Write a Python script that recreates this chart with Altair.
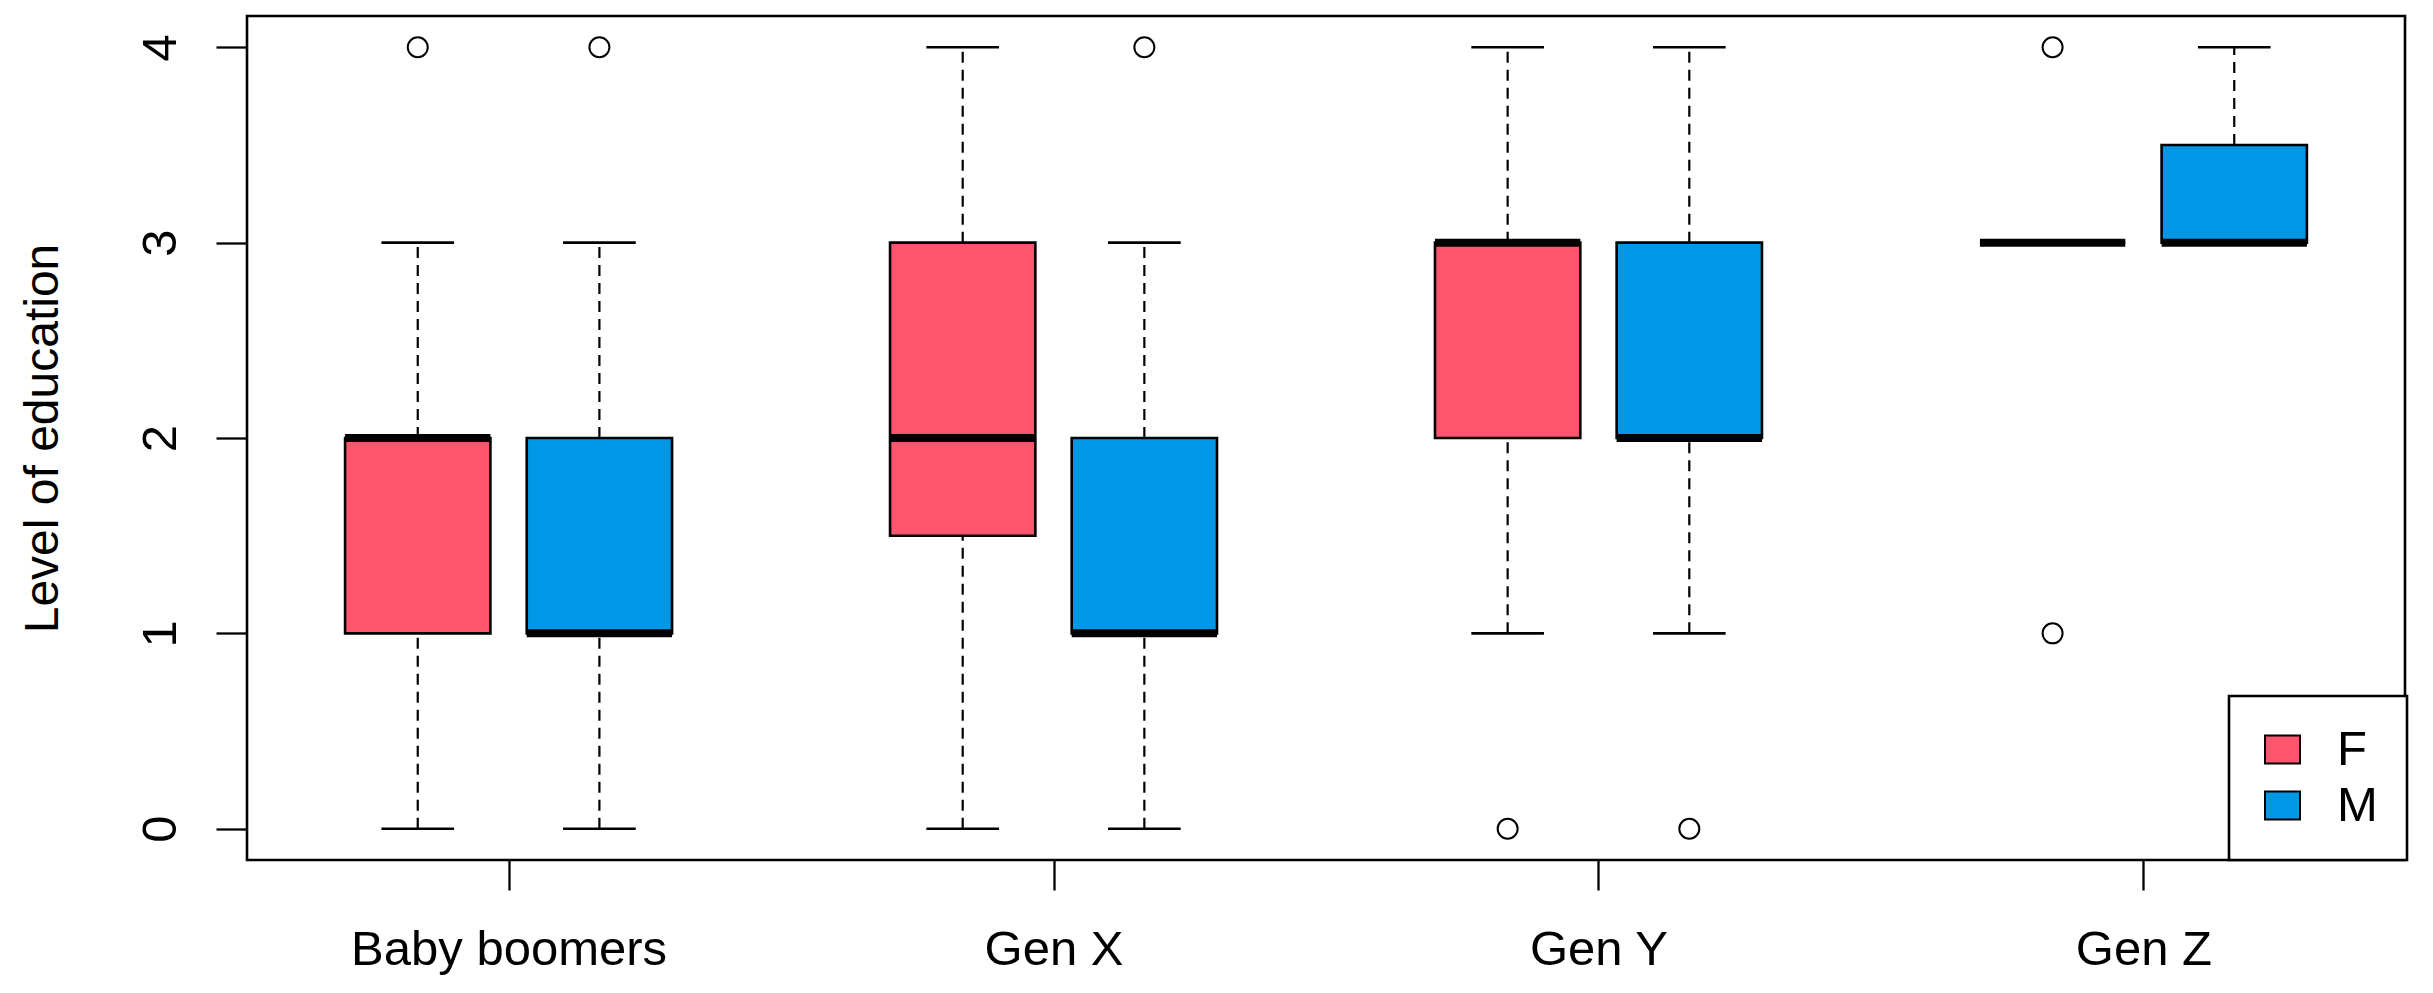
import altair as alt
import pandas as pd

# ---- data ----
groups = ["Baby boomers", "Gen X", "Gen Y", "Gen Z"]
group_ticks = [1.5, 4.5, 7.5, 10.5]
sexes = ["F", "M"]

box_group = ["Baby boomers", "Baby boomers", "Gen X", "Gen X", "Gen Y", "Gen Y", "Gen Z", "Gen Z"]
box_sex = ["F", "M", "F", "M", "F", "M", "F", "M"]
box_pos = [1, 2, 4, 5, 7, 8, 10, 11]
whisk_lo = [0, 0, 0, 0, 1, 1, 3, 3]
q1 = [1, 1, 1.5, 1, 2, 2, 3, 3]
median = [2, 1, 2, 1, 3, 2, 3, 3]
q3 = [2, 2, 3, 2, 3, 3, 3, 3.5]
whisk_hi = [3, 3, 4, 3, 4, 4, 3, 4]

out_pos = [1, 2, 5, 7, 8, 10, 10]
out_val = [4, 4, 4, 0, 0, 4, 1]

colors = ["#FF546E", "#0098E6"]

boxes = pd.DataFrame({
    "group": box_group, "sex": box_sex, "pos": box_pos,
    "lo": whisk_lo, "q1": q1, "med": median, "q3": q3, "hi": whisk_hi,
})
outl = pd.DataFrame({"pos": out_pos, "val": out_val})

FONT = "Liberation Sans"
FS = 49

xscale = alt.Scale(domain=[0.06, 11.94], nice=False, zero=False)
yscale = alt.Scale(domain=[-0.16, 4.16], nice=False, zero=False)

label_expr = ""
for v, g in zip(group_ticks, groups):
    label_expr += f"datum.value == {v} ? '{g}' : "
label_expr += "''"

xaxis = alt.Axis(values=group_ticks, labelExpr=label_expr, title=None, grid=False,
                 domain=False, tickSize=30, tickWidth=2.3, tickColor="black",
                 labelFontSize=FS, labelColor="black", labelFont=FONT,
                 labelBaseline="alphabetic", labelPadding=74, labelFlush=False,
                 labelOverlap=False, labelLimit=0)
yaxis = alt.Axis(values=[0, 1, 2, 3, 4], title="Level of education", grid=False,
                 domain=False, tickSize=31, tickWidth=2.3, tickColor="black",
                 labelFontSize=FS, labelColor="black", labelFont=FONT,
                 labelAngle=270, labelAlign="center", labelBaseline="alphabetic",
                 labelPadding=41, titleFontSize=48, titleFont=FONT,
                 titleFontWeight="normal", titleColor="black", titleAngle=270,
                 titleX=-190, titleBaseline="alphabetic")


def X(field):
    return alt.X(field, type="quantitative", scale=xscale, axis=xaxis)


def Y(field):
    return alt.Y(field, type="quantitative", scale=yscale, axis=yaxis)


base = alt.Chart(boxes).transform_calculate(
    xl="datum.pos - 0.4", xr="datum.pos + 0.4",
    cl="datum.pos - 0.2", cr="datum.pos + 0.2",
)

dash = [11, 7]
wl = base.mark_rule(color="black", strokeWidth=2.2, strokeDash=dash).encode(
    x=X("pos"), y=Y("lo"), y2="q1")
wh = base.mark_rule(color="black", strokeWidth=2.2, strokeDash=dash).encode(
    x=X("pos"), y=Y("q3"), y2="hi")
cap_lo = base.mark_rule(color="black", strokeWidth=2.6).encode(
    x=X("cl"), x2="cr", y=Y("lo"))
cap_hi = base.mark_rule(color="black", strokeWidth=2.6).encode(
    x=X("cl"), x2="cr", y=Y("hi"))
rect = base.mark_rect(stroke="black", strokeWidth=2.6).encode(
    x=X("xl"), x2="xr", y=Y("q1"), y2="q3",
    fill=alt.Fill("sex:N", scale=alt.Scale(domain=sexes, range=colors),
                  legend=alt.Legend(
                      title=None, orient="none", legendX=1982, legendY=680,
                      direction="vertical", symbolType="M-1,-0.8H1V0.8H-1Z",
                      symbolSize=1225,
                      symbolStrokeColor="black", symbolStrokeWidth=2,
                      symbolOffset=0, labelOffset=30, labelFontSize=FS,
                      labelFont=FONT, labelColor="black", rowPadding=6,
                      padding=29, strokeColor="black", fillColor="white",
                      labelLimit=0)))
med = base.mark_rule(color="black", strokeWidth=8).encode(
    x=X("xl"), x2="xr", y=Y("med"))
pts = alt.Chart(outl).mark_point(shape="circle", filled=False, size=400,
                                 color="black", strokeWidth=2, opacity=1).encode(
    x=X("pos"), y=Y("val"))

chart = alt.layer(wl, wh, cap_lo, cap_hi, rect, med, pts).properties(
    width=2158, height=844,
    padding={"left": 239, "top": 8, "right": 20, "bottom": 120},
    autosize=alt.AutoSizeParams(type="none"),
).configure(
    font=FONT, background="white"
).configure_view(
    stroke="black", strokeWidth=2.6
).configure_legend(strokeWidth=2.6)

chart.save("out.html", embed_options={"renderer": "svg", "actions": False})
